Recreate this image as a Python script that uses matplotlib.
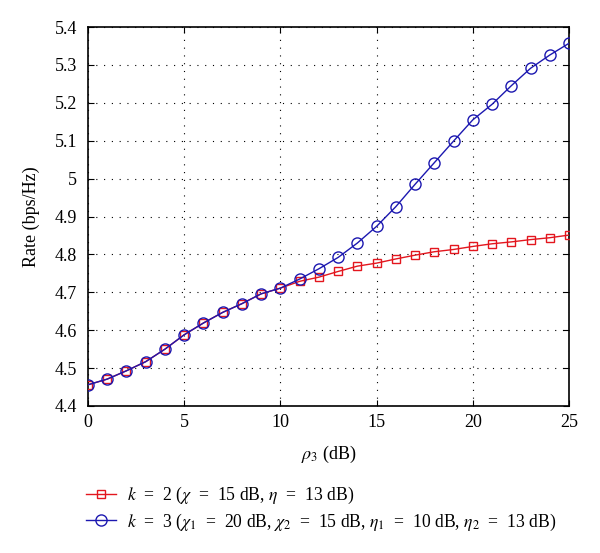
import matplotlib
matplotlib.use("Agg")
import matplotlib.pyplot as plt

x_vals = list(range(0, 26))
rate_k2 = [4.456, 4.471, 4.493, 4.517, 4.550, 4.588, 4.619, 4.647, 4.670, 4.696, 4.711,
           4.729, 4.740, 4.755, 4.769, 4.777, 4.788, 4.798, 4.807, 4.813, 4.821,
           4.828, 4.833, 4.839, 4.844, 4.851]
rate_k3 = [4.456, 4.471, 4.493, 4.517, 4.550, 4.588, 4.619, 4.647, 4.670, 4.696, 4.711,
           4.735, 4.762, 4.792, 4.830, 4.874, 4.926, 4.985, 5.042, 5.099, 5.155,
           5.196, 5.245, 5.291, 5.326, 5.357]
label_k2 = r"$k$  =  2 ($\chi$  =  15 dB, $\eta$  =  13 dB)"
label_k3 = r"$k$  =  3 ($\chi_1$  =  20 dB, $\chi_2$  =  15 dB, $\eta_1$  =  10 dB, $\eta_2$  =  13 dB)"
x_ticks = [0, 5, 10, 15, 20, 25]
y_ticks = [4.4, 4.5, 4.6, 4.7, 4.8, 4.9, 5.0, 5.1, 5.2, 5.3, 5.4]
y_tick_labels = ["4.4", "4.5", "4.6", "4.7", "4.8", "4.9", "5", "5.1", "5.2", "5.3", "5.4"]

plt.rcParams['font.family'] = ['Liberation Serif', 'DejaVu Serif']
plt.rcParams['mathtext.fontset'] = 'stix'
plt.rcParams['font.size'] = 13

fig = plt.figure(figsize=(6.0, 5.53), dpi=100)
ax = fig.add_axes([88/600, 1 - 406/553, (569 - 88)/600, (406 - 27)/553])

ax.plot(x_vals, rate_k2, color='#e3161e', lw=1.0, marker='s', ms=6,
        mfc='none', mec='#e3161e', mew=1.0, label=label_k2, zorder=3)
ax.plot(x_vals, rate_k3, color='#1c18b0', lw=1.0, marker='o', ms=8,
        mfc='none', mec='#1c18b0', mew=1.0, label=label_k3, zorder=4)

ax.set_xlim(0, 25)
ax.set_ylim(4.4, 5.4)
ax.set_xticks(x_ticks)
ax.set_yticks(y_ticks)
ax.set_yticklabels(y_tick_labels)
ax.tick_params(direction='in', top=True, right=True, length=4, width=0.8, labelsize=13)
ax.tick_params(axis='y', pad=8)
ax.tick_params(axis='x', pad=6)
ax.grid(True, color='black', linestyle=(0, (1, 6)), linewidth=0.8)
for s in ax.spines.values():
    s.set_linewidth(1.2)

ax.set_xlabel(r"$\rho_3$ (dB)", fontsize=13, labelpad=9)
ax.set_ylabel("Rate (bps/Hz)", fontsize=13, labelpad=10)

fig.legend(loc='upper left', bbox_to_anchor=(86/600, 1 - 485/553), frameon=False,
           fontsize=12.7, borderpad=0, borderaxespad=0, handlelength=1.7,
           handletextpad=0.6, labelspacing=0.3)

fig.savefig("out.png", dpi=100)
